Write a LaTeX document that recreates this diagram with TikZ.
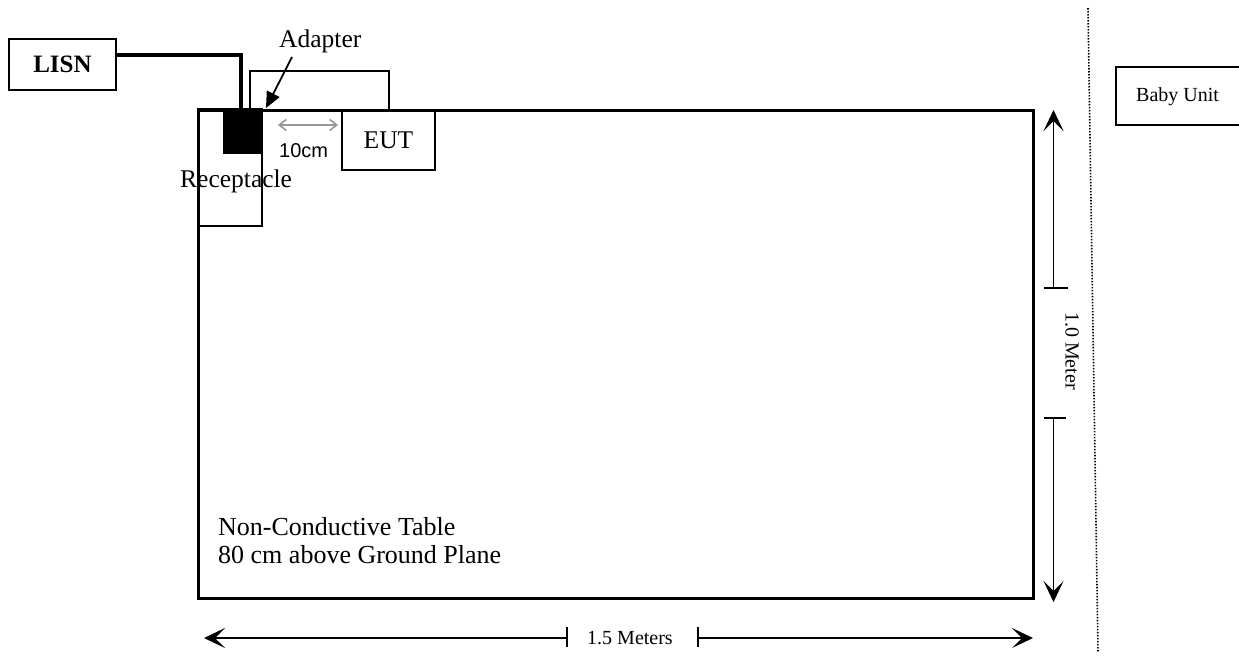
\documentclass[tikz,border=0pt]{standalone}
\usepackage{fontspec}
\setmainfont{Liberation Serif}
\newfontfamily\arialfont{Liberation Sans}
\usetikzlibrary{arrows.meta}
\begin{document}
\begin{tikzpicture}[x=1pt,y=-1pt,
  box/.style={draw, line width=1.8pt, inner sep=0pt, outer sep=0pt},
  bigtext/.style={font=\fontsize{25.5}{28}\selectfont, inner sep=0pt},
  smalltext/.style={font=\fontsize{20}{22}\selectfont, inner sep=0pt},
  dimline/.style={line width=1.8pt},
  dimarrow/.style={line width=1.8pt, -{Stealth[length=21pt,width=20pt,inset=10pt]}},
  cable/.style={line width=1.8pt},
  thickcable/.style={line width=3.2pt},
  grayarrow/.style={line width=1.6pt, draw={rgb,255:red,150;green,150;blue,150}, {Straight Barb[length=7pt,width=11pt]}-{Straight Barb[length=7pt,width=11pt]}}
]
\clip (0,0) rectangle (1239,657);
\fill[white] (0,0) rectangle (1239,657);

% table
\node[box, line width=3pt, minimum width=835pt, minimum height=488pt] (table) at (615.5,354) {};
% receptacle
\node[box, minimum width=64pt, minimum height=117pt] (recept) at (230,167.5) {};
% adapter (black square)
\node[fill=black, inner sep=0pt, outer sep=0pt, minimum width=39pt, minimum height=43pt] (adapter) at (242.5,132.5) {};
% EUT
\node[box, minimum width=93pt, minimum height=60pt] (eut) at (388.5,140) {};
\node[bigtext] at (eut.center) {EUT};
% LISN
\node[box, minimum width=107pt, minimum height=51pt] (lisn) at (62.5,64.5) {};
\node[bigtext, font=\fontsize{25}{28}\selectfont\bfseries] at (lisn.center) {LISN};
% Baby unit
\node[box, minimum width=135pt, minimum height=58pt] (baby) at (1183.5,96) {};
\node[smalltext, anchor=base west] (babytxt) at (1136,101) {Baby Unit};

% cables
\draw[thickcable] ([yshift=9.5pt]lisn.east) -| ([xshift=-1.5pt]adapter.north);
\draw[cable] ([xshift=7.5pt]adapter.north) -- ++(0,-40) -| ([xshift=0.5pt]eut.north);

% labels
\node[bigtext, anchor=base west] (adaptertxt) at (279,47) {Adapter};
\coordinate (adstart) at (292,57);
\draw[line width=1.8pt, -{Triangle[length=16pt,width=14pt]}] (adstart) -- ([xshift=4pt,yshift=3pt]adapter.north east);
\node[bigtext, anchor=base west] (recepttxt) at (180,187) {Receptacle};
\draw[grayarrow] ([xshift=16pt,yshift=7.5pt]adapter.east) -- ([xshift=-4pt,yshift=15pt]eut.west);
\node[anchor=base west, inner sep=0pt, font=\arialfont\fontsize{20}{22}\selectfont] (tencm) at (279,157) {10cm};

\node[anchor=base west, inner sep=0pt, font=\fontsize{26}{28}\selectfont] (tabletxt1) at (218,535) {Non-Conductive Table};
\node[anchor=base west, inner sep=0pt, font=\fontsize{26}{28}\selectfont] (tabletxt2) at (218,563) {80 cm above Ground Plane};

% vertical dimension
\coordinate (vtop) at (1053.5,110);
\coordinate (vt1) at (1053.5,288);
\coordinate (vt2) at (1053.5,418);
\coordinate (vbot) at (1053.5,602);
\draw[dimarrow] (vt1) -- (vtop);
\draw[dimarrow] (vt2) -- (vbot);
\draw[dimline] ([xshift=-10pt]vt1) -- ([xshift=14pt]vt1);
\draw[dimline] ([xshift=-10pt]vt2) -- ([xshift=12pt]vt2);
\node[smalltext, rotate=-90] (vlabel) at (1072,351) {1.0 Meter};

% horizontal dimension
\coordinate (hleft) at (204,638);
\coordinate (ht1) at (567,638);
\coordinate (ht2) at (698,638);
\coordinate (hright) at (1033,638);
\draw[dimarrow] (ht1) -- (hleft);
\draw[dimarrow] (ht2) -- (hright);
\draw[dimline] ([yshift=11pt]ht1) -- ([yshift=-9pt]ht1);
\draw[dimline] ([yshift=11pt]ht2) -- ([yshift=-9pt]ht2);
\node[smalltext, anchor=base] (hlabel) at (630,644) {1.5 Meters};

% dotted separator
\coordinate (dtop) at (1088,8);
\coordinate (dbot) at (1098,652);
\draw[line width=1.6pt, dash pattern=on 1.5pt off 1.5pt] (dtop) -- (dbot);
\end{tikzpicture}
\end{document}
